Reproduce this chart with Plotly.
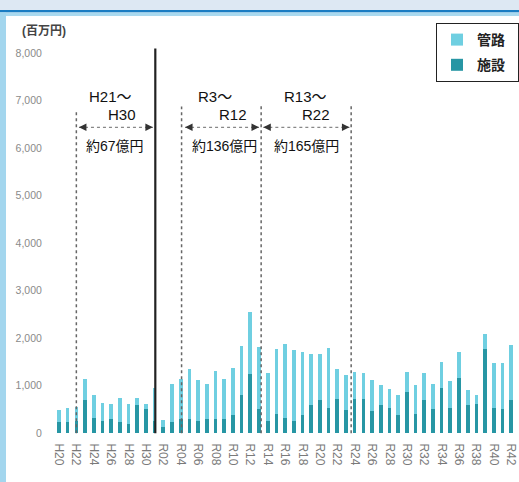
import plotly.graph_objects as go

categories = ["H20", "H21", "H22", "H23", "H24", "H25", "H26", "H27", "H28", "H29", "H30",
              "R01", "R02", "R03", "R04", "R05", "R06", "R07", "R08", "R09", "R10",
              "R11", "R12", "R13", "R14", "R15", "R16", "R17", "R18", "R19", "R20",
              "R21", "R22", "R23", "R24", "R25", "R26", "R27", "R28", "R29", "R30",
              "R31", "R32", "R33", "R34", "R35", "R36", "R37", "R38", "R39", "R40",
              "R41", "R42"]

# 施設 (facilities, bottom segment), 百万円
shisetsu = [240, 240, 250, 690, 320, 250, 300, 230, 200, 590, 500,
            250, 130, 240, 300, 300, 260, 300, 300, 290, 390,
            810, 1250, 500, 260, 400, 310, 260, 390, 590, 690,
            520, 710, 480, 710, 710, 460, 600, 540, 380, 870,
            410, 690, 500, 960, 520, 1170, 590, 620, 1780, 540,
            500, 690]

# 管路 (pipelines, top segment), 百万円
kanro = [250, 280, 310, 440, 490, 380, 310, 500, 410, 160, 120,
         700, 150, 800, 830, 1045, 850, 745, 1000, 845, 990,
         1020, 1300, 1310, 1010, 1365, 1560, 1500, 1320, 1085, 985,
         1275, 635, 740, 580, 555, 650, 410, 390, 430, 420,
         600, 580, 545, 540, 570, 540, 310, 190, 310, 945,
         985, 1175]

tick_labels = ["H20", "H22", "H24", "H26", "H28", "H30", "R02", "R04", "R06", "R08",
               "R10", "R12", "R14", "R16", "R18", "R20", "R22", "R24", "R26", "R28",
               "R30", "R32", "R34", "R36", "R38", "R40", "R42"]

y_ticks = [0, 1000, 2000, 3000, 4000, 5000, 6000, 7000, 8000]
y_tick_text = ["0", "1,000", "2,000", "3,000", "4,000", "5,000", "6,000", "7,000", "8,000"]

period_labels = [("H21～", "H30", "約67億円"), ("R3～", "R12", "約136億円"), ("R13～", "R22", "約165億円")]

LIGHT = "#6fcfe1"
DARK = "#2796a4"
FONT = "Liberation Sans, Noto Sans CJK JP, sans-serif"

fig = go.Figure()
fig.add_trace(go.Bar(x=categories, y=shisetsu, name="<b>施設</b>&nbsp;&nbsp;", marker_color=DARK,
                     width=0.42, legendrank=2, legendgroup="b", marker_line_width=0))
fig.add_trace(go.Bar(x=categories, y=kanro, name="<b>管路</b>&nbsp;&nbsp;", marker_color=LIGHT,
                     width=0.42, legendrank=1, legendgroup="a", marker_line_width=0))

W, H = 519, 482
ML, MR, MT, MB = 52, 0, 20, 46
pw, ph = W - ML - MR, H - MT - MB


def px(xp):
    return (xp - ML) / pw


def py(yp):
    return (H - MB - yp) / ph


shapes = []
# frame decoration
shapes.append(dict(type="rect", xref="paper", yref="paper", x0=px(0), x1=px(W), y0=py(10), y1=py(0),
                   fillcolor="#dde8f3", line_width=0, layer="below"))
shapes.append(dict(type="rect", xref="paper", yref="paper", x0=px(0), x1=px(W), y0=py(12.5), y1=py(10),
                   fillcolor="#1a7cc2", line_width=0, layer="below"))
shapes.append(dict(type="rect", xref="paper", yref="paper", x0=px(0), x1=px(W), y0=py(16), y1=py(12.5),
                   fillcolor="#a9d9ef", line_width=0, layer="below"))
shapes.append(dict(type="rect", xref="paper", yref="paper", x0=px(0), x1=px(6), y0=py(H), y1=py(12.5),
                   fillcolor="#a3d6ee", line_width=0, layer="below"))

# dotted period boundaries
for xv, ytop in [(2, 6800), (14.1, 6880), (23.25, 6900), (33.6, 6900)]:
    shapes.append(dict(type="line", xref="x", yref="y", x0=xv, x1=xv, y0=0, y1=ytop,
                       line=dict(color="#666666", width=1.5, dash="dot")))
# solid divider
shapes.append(dict(type="line", xref="x", yref="y", x0=11.08, x1=11.08, y0=0, y1=8100,
                   line=dict(color="#222222", width=2.2)))

arrow_y = 6440
spans = [(2.3, 10.8), (14.5, 23.0), (23.5, 33.4)]
for a, b in spans:
    shapes.append(dict(type="line", xref="x", yref="y", x0=a, x1=b, y0=arrow_y, y1=arrow_y,
                       line=dict(color="#888888", width=1.3, dash="dot")))

annotations = []
for a, b in spans:
    annotations.append(dict(x=b, y=arrow_y, ax=b - 0.8, ay=arrow_y, xref="x", yref="y",
                            axref="x", ayref="y", text="", showarrow=True, arrowhead=2,
                            arrowsize=1, arrowwidth=1.5, arrowcolor="#333333"))
    annotations.append(dict(x=a, y=arrow_y, ax=a + 0.8, ay=arrow_y, xref="x", yref="y",
                            axref="x", ayref="y", text="", showarrow=True, arrowhead=2,
                            arrowsize=1, arrowwidth=1.5, arrowcolor="#333333"))

label_pos = [(5.98, 7.3, 6.5), (18.0, 20.0, 19.0), (28.3, 29.6, 28.5)]
for (t1, t2, t3), (x1, x2, x3) in zip(period_labels, label_pos):
    annotations.append(dict(x=x1, y=7080, xref="x", yref="y", text=t1, showarrow=False,
                            font=dict(size=15, color="#111111", family=FONT)))
    annotations.append(dict(x=x2, y=6720, xref="x", yref="y", text=t2, showarrow=False,
                            font=dict(size=15, color="#111111", family=FONT)))
    annotations.append(dict(x=x3, y=6050, xref="x", yref="y", text=t3, showarrow=False,
                            font=dict(size=14, color="#111111", family=FONT)))

annotations.append(dict(x=px(20), y=py(31), xref="paper", yref="paper", xanchor="left",
                        yanchor="middle", text="<b>(百万円)</b>", showarrow=False,
                        font=dict(size=12, color="#444444", family=FONT)))

fig.update_layout(
    width=W, height=H,
    margin=dict(l=ML, r=MR, t=MT, b=MB, pad=0),
    paper_bgcolor="white", plot_bgcolor="white",
    barmode="stack",
    bargap=0.6,
    showlegend=True,
    legend=dict(x=1, xanchor="right", y=py(23), yanchor="top",
                bordercolor="#222222", borderwidth=1, bgcolor="white",
                font=dict(size=14, color="#222222", family=FONT),
                traceorder="grouped", tracegroupgap=4,
                itemwidth=30),
    xaxis=dict(type="category", categoryorder="array", categoryarray=categories,
               range=[-0.8, 52.9], tickmode="array", tickvals=tick_labels, ticktext=tick_labels,
               tickangle=90, tickfont=dict(size=12, color="#7a7a7a", family=FONT),
               showgrid=False, zeroline=False, showline=False, ticks="outside",
               ticklen=4, tickcolor="rgba(0,0,0,0)"),
    yaxis=dict(range=[-60, 8700], tickmode="array", tickvals=y_ticks, ticktext=y_tick_text,
               tickfont=dict(size=10.5, color="#8a8a8a", family=FONT),
               showgrid=False, zeroline=False, showline=False, ticks="outside",
               ticklen=7, tickcolor="rgba(0,0,0,0)"),
    shapes=shapes,
    annotations=annotations,
    font=dict(family=FONT),
)

fig.write_html("out.html", config={"displayModeBar": False},
               post_script="document.body.style.margin='0';document.body.style.padding='0';")
